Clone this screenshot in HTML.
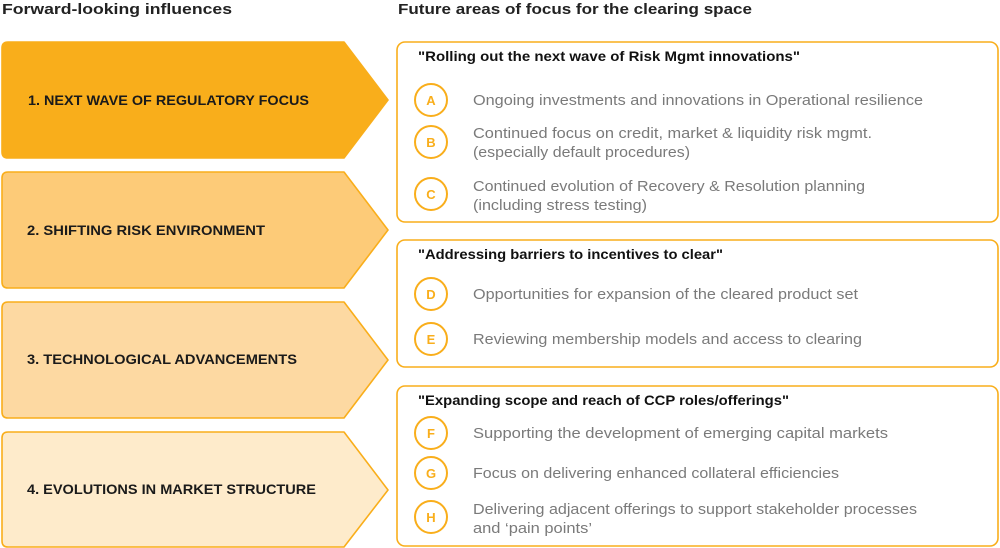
<!DOCTYPE html>
<html><head><meta charset="utf-8"><style>
body{margin:0;background:#fff}
svg{display:block}
.h{font:600 15px "Liberation Sans",sans-serif;fill:#222}
.a{font:bold 14px "Liberation Sans",sans-serif;fill:#1a1a1a}
.t{font:600 14px "Liberation Sans",sans-serif;fill:#111}
.i{font:14.5px "Liberation Sans",sans-serif;fill:#7a7a7a}
.c{fill:#fff;stroke:#F9AE1B;stroke-width:2}
.l{font:bold 13px "Liberation Sans",sans-serif;fill:#F9AE1B;text-anchor:middle}
.b{fill:#fff;stroke:#F9AE1B;stroke-width:1.6}
</style></head><body>
<svg width="1000" height="548" viewBox="0 0 1000 548" xmlns="http://www.w3.org/2000/svg">
<text class="h" x="2" y="14" textLength="230" lengthAdjust="spacingAndGlyphs">Forward-looking influences</text>
<text class="h" x="398" y="14" textLength="354" lengthAdjust="spacingAndGlyphs">Future areas of focus for the clearing space</text>
<g stroke="#F9AE1B" stroke-width="1.6" stroke-linejoin="round">
<path d="M8 42H344L388 100L344 158H8Q2 158 2 152V48Q2 42 8 42Z" fill="#F9AE1B"/>
<path d="M8 172H344L388 230L344 288H8Q2 288 2 282V178Q2 172 8 172Z" fill="#FDCB78"/>
<path d="M8 302H344L388 360L344 418H8Q2 418 2 412V308Q2 302 8 302Z" fill="#FDD9A2"/>
<path d="M8 432H344L388 490L344 547H8Q2 547 2 541V438Q2 432 8 432Z" fill="#FEEBCB"/>
</g>
<text class="a" x="28" y="105" textLength="281" lengthAdjust="spacingAndGlyphs">1. NEXT WAVE OF REGULATORY FOCUS</text>
<text class="a" x="27" y="235" textLength="238" lengthAdjust="spacingAndGlyphs">2. SHIFTING RISK ENVIRONMENT</text>
<text class="a" x="27" y="364" textLength="270" lengthAdjust="spacingAndGlyphs">3. TECHNOLOGICAL ADVANCEMENTS</text>
<text class="a" x="27" y="494" textLength="289" lengthAdjust="spacingAndGlyphs">4. EVOLUTIONS IN MARKET STRUCTURE</text>

<rect class="b" x="397" y="42" width="601" height="180" rx="8"/>
<rect class="b" x="397" y="240" width="601" height="127" rx="8"/>
<rect class="b" x="397" y="386" width="601" height="160" rx="8"/>

<text class="t" x="418" y="61" textLength="382" lengthAdjust="spacingAndGlyphs">"Rolling out the next wave of Risk Mgmt innovations"</text>
<text class="t" x="418" y="259" textLength="305" lengthAdjust="spacingAndGlyphs">"Addressing barriers to incentives to clear"</text>
<text class="t" x="418" y="405" textLength="371" lengthAdjust="spacingAndGlyphs">"Expanding scope and reach of CCP roles/offerings"</text>

<circle class="c" cx="431" cy="100" r="16"/><text class="l" x="431" y="105">A</text>
<circle class="c" cx="431" cy="142" r="16"/><text class="l" x="431" y="147">B</text>
<circle class="c" cx="431" cy="194" r="16"/><text class="l" x="431" y="199">C</text>
<circle class="c" cx="431" cy="294" r="16"/><text class="l" x="431" y="299">D</text>
<circle class="c" cx="431" cy="339" r="16"/><text class="l" x="431" y="344">E</text>
<circle class="c" cx="431" cy="433" r="16"/><text class="l" x="431" y="438">F</text>
<circle class="c" cx="431" cy="473" r="16"/><text class="l" x="431" y="478">G</text>
<circle class="c" cx="431" cy="517" r="16"/><text class="l" x="431" y="522">H</text>

<text class="i" x="473" y="105" textLength="450" lengthAdjust="spacingAndGlyphs">Ongoing investments and innovations in Operational resilience</text>
<text class="i" x="473" y="138" textLength="399" lengthAdjust="spacingAndGlyphs">Continued focus on credit, market &amp; liquidity risk mgmt.</text>
<text class="i" x="473" y="157" textLength="217" lengthAdjust="spacingAndGlyphs">(especially default procedures)</text>
<text class="i" x="473" y="191" textLength="392" lengthAdjust="spacingAndGlyphs">Continued evolution of Recovery &amp; Resolution planning</text>
<text class="i" x="473" y="210" textLength="174" lengthAdjust="spacingAndGlyphs">(including stress testing)</text>
<text class="i" x="473" y="299" textLength="385" lengthAdjust="spacingAndGlyphs">Opportunities for expansion of the cleared product set</text>
<text class="i" x="473" y="344" textLength="389" lengthAdjust="spacingAndGlyphs">Reviewing membership models and access to clearing</text>
<text class="i" x="473" y="438" textLength="415" lengthAdjust="spacingAndGlyphs">Supporting the development of emerging capital markets</text>
<text class="i" x="473" y="478" textLength="366" lengthAdjust="spacingAndGlyphs">Focus on delivering enhanced collateral efficiencies</text>
<text class="i" x="473" y="514" textLength="444" lengthAdjust="spacingAndGlyphs">Delivering adjacent offerings to support stakeholder processes</text>
<text class="i" x="473" y="533" textLength="119" lengthAdjust="spacingAndGlyphs">and ‘pain points’</text>
</svg>
</body></html>
